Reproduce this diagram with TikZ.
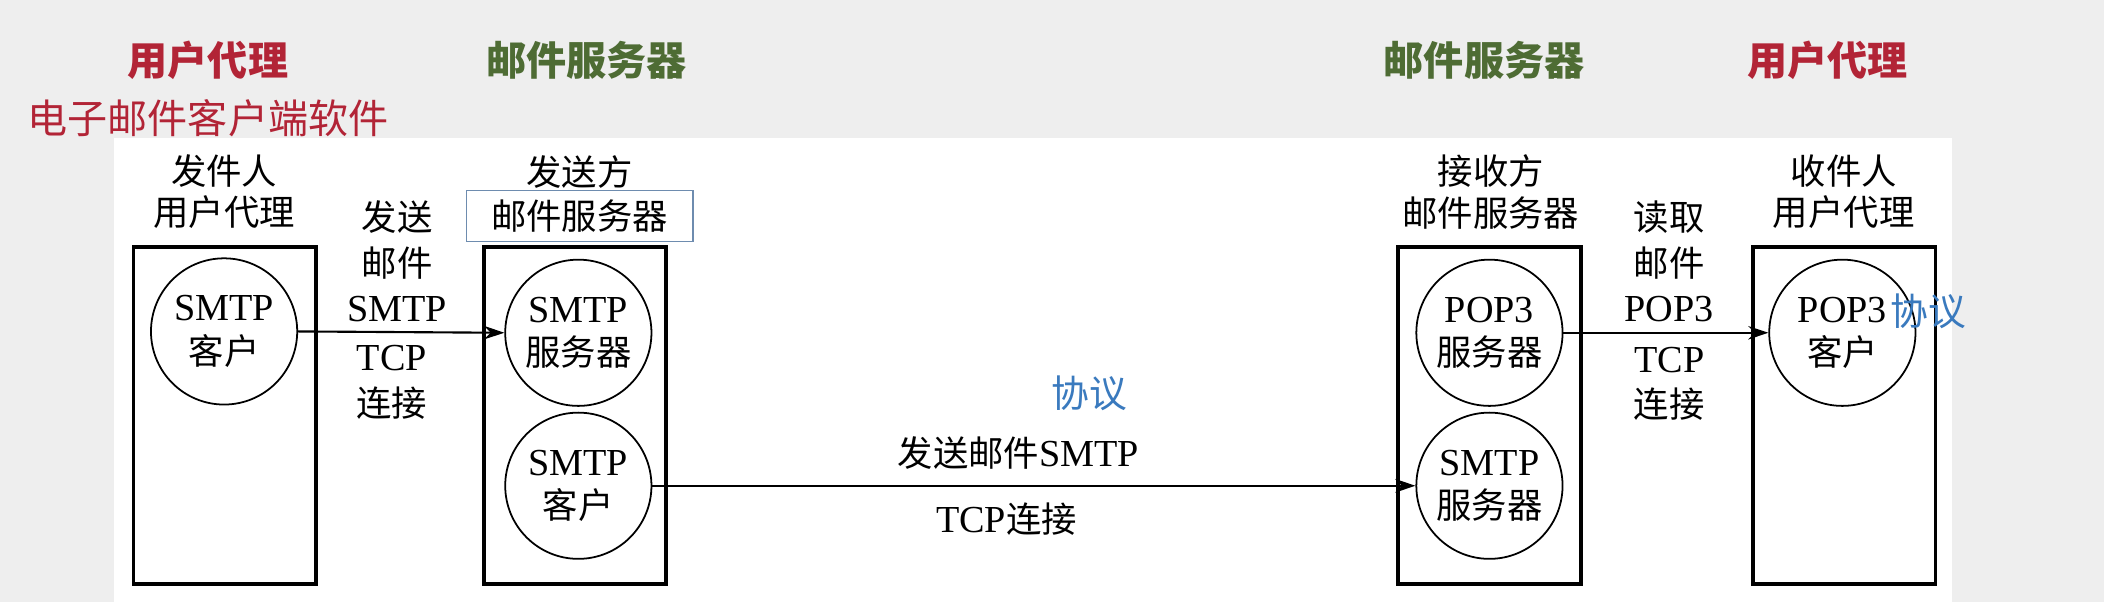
\documentclass[tikz,border=0pt]{standalone}
\usepackage{fontspec}
\setmainfont{Liberation Serif}[Scale=1.08]
\newfontfamily\cjk{Noto Sans CJK SC}
\usetikzlibrary{arrows.meta,shapes.geometric}
\definecolor{bggray}{RGB}{238,238,238}
\definecolor{tred}{RGB}{178,36,54}
\definecolor{tgreen}{RGB}{78,108,52}
\definecolor{tblue}{RGB}{58,122,190}
\definecolor{frameblue}{RGB}{110,140,175}
\newcommand\zh[1]{{\cjk #1}}
\begin{document}
\begin{tikzpicture}[x=0.02cm,y=-0.02cm,
  title/.style={inner sep=0pt,font=\cjk\fontsize{17}{20}\selectfont\bfseries},
  subtitle/.style={inner sep=0pt,font=\cjk\fontsize{17}{20}\selectfont},
  lbl/.style={inner sep=0pt,align=center,font=\fontsize{15}{17.5}\selectfont},
  arrlbl/.style={inner sep=0pt,align=center,font=\fontsize{15}{19.3}\selectfont},
  hostbox/.style={draw,line width=1.6pt,minimum width=2.72cm,minimum height=5.02cm,inner sep=0pt},
  proc/.style={draw,circle,line width=0.75pt,minimum size=2.18cm,inner sep=0pt,align=center,font=\fontsize{15}{18.5}\selectfont},
  conn/.style={line width=0.9pt,-{Stealth[length=0.3cm,width=0.2cm]}},
  prot/.style={inner sep=0pt,text=tblue,font=\cjk\fontsize{16}{19}\selectfont}]
\useasboundingbox (0,0) rectangle (1568,449);
\fill[bggray] (0,0) rectangle (1568,449);
\fill[white] (85,103) rectangle (1455,449);
% titles
\node[title,text=tred] (t1) at (155,45) {用户代理};
\node[title,text=tgreen] (t2) at (437,45) {邮件服务器};
\node[title,text=tgreen] (t3) at (1106,45) {邮件服务器};
\node[title,text=tred] (t4) at (1362,45) {用户代理};
\node[subtitle,text=tred] (t5) at (155,88) {电子邮件客户端软件};
% column labels
\node[lbl] (l1) at (167,143) {\zh{发件人}\\\zh{用户代理}};
\node[lbl] (l2a) at (432,128) {\zh{发送方}};
\node[lbl,draw=frameblue,line width=0.5pt,minimum width=3.38cm,minimum height=0.76cm] (l2b) at (432,161) {\zh{邮件服务器}};
\node[lbl] (l3) at (1111,143) {\zh{接收方}\\\zh{邮件服务器}};
\node[lbl] (l4) at (1374,143) {\zh{收件人}\\\zh{用户代理}};
% host boxes
\node[hostbox] (b1) at (167.5,309.5) {};
\node[hostbox] (b2) at (428.5,309.5) {};
\node[hostbox] (b3) at (1110,309.5) {};
\node[hostbox] (b4) at (1374.5,309.5) {};
% processes
\node[proc] (c1) at (167,247) {SMTP\\\zh{客户}};
\node[proc] (c2) at (431,248) {SMTP\\\zh{服务器}};
\node[proc] (c3) at (431,362) {SMTP\\\zh{客户}};
\node[proc] (c4) at (1110,248) {POP3\\\zh{服务器}};
\node[proc] (c5) at (1110,362) {SMTP\\\zh{服务器}};
\node[proc] (c6) at (1373,248) {POP3\\\zh{客户}};
% connectors
\draw[conn] (c1.east) -- (c2.west);
\draw[conn] (c3.east) -- (c5.west);
\draw[conn] (c4.east) -- (c6.west);
% connector labels
\node[arrlbl] (a1t) at (296,195) {\zh{发送}\\\zh{邮件}\\SMTP};
\node[arrlbl] (a1b) at (292,285) {TCP\\\zh{连接}};
\node[arrlbl] (a2t) at (759,338) {\zh{发送邮件}SMTP};
\node[arrlbl] (a2b) at (750,387) {TCP\zh{连接}};
\node[arrlbl] (a3t) at (1244,195) {\zh{读取}\\\zh{邮件}\\POP3};
\node[arrlbl] (a3b) at (1244,286) {TCP\\\zh{连接}};
\node[prot] (p1) at (812,293) {协议};
\node[prot] (p2) at (1437,232) {协议};
\end{tikzpicture}
\end{document}
